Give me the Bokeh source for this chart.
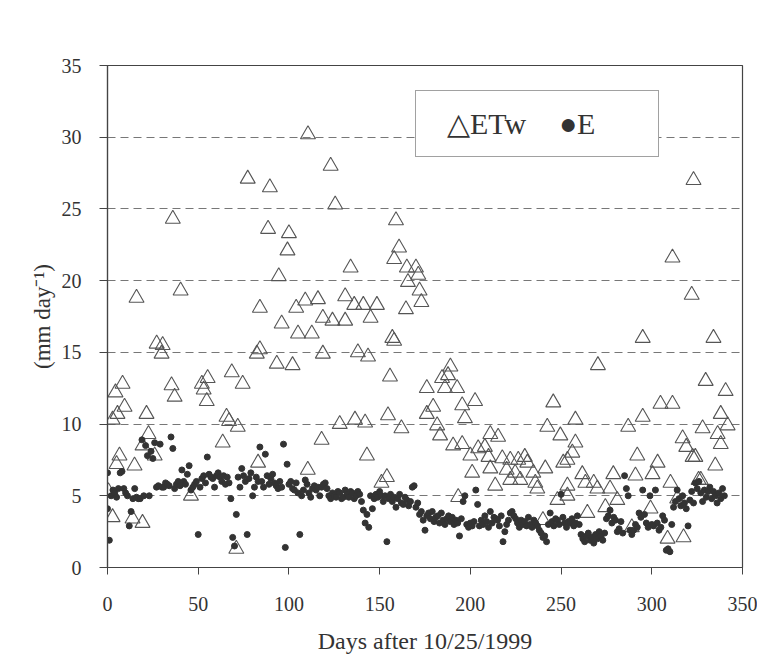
import math
from bokeh.plotting import figure
from bokeh.models import Range1d, FixedTicker, Legend, LegendItem
from bokeh.embed import file_html
from bokeh.resources import INLINE

# ---------------- data ----------------
x_ticks = [0, 50, 100, 150, 200, 250, 300, 350]
y_ticks = [0, 5, 10, 15, 20, 25, 30, 35]

etw_day = [
    110.5, 123, 77.3, 89.5, 125.5, 36, 159, 88.5, 100, 99.2,
    160.7, 158, 134, 94.4, 165, 170, 171.3, 165.6, 172, 173,
    16, 40.3, 84, 109, 116, 131, 136, 141, 148.5, 104,
    164.5, 96, 118.7, 124, 131, 145, 105, 112.6, 157, 323,
    311.4, 322,
    118.7, 138, 143.6, 158, 155.7, 154.6, 162, 93.3, 102, 82.3,
    84, 68.5, 74.5, 52, 55.2, 53, 54.7, 35.3, 37, 27.1,
    30.4, 29.8, 8.3, 4.4, 9.4, 5.5, 2.8, 21.5, 22.6, 19.3,
    26, 6.6, 5, 14.9, 0.5, 2.8, 13.8, 19.3, 46, 65.6,
    67, 71.8, 63.5, 83, 71, 110.4, 118, 128, 136.4, 142,
    143, 154, 151,
    189, 184.4, 187.7, 176, 186, 192.7, 179.5, 176, 202.6, 195.5,
    197, 181.7, 183.3, 211, 215.3, 190.5, 195.5, 200, 204.3, 208,
    210, 217.6, 222, 226.4, 230, 231.4, 201, 211, 220, 224.7,
    234.7, 241.3, 222, 227.5, 235.8, 236.9, 213.7, 193.3, 242.4, 249.6,
    245.7, 257.9, 257.9, 256.2, 253.5, 251.2, 261.7, 253.5, 248, 240,
    270.3, 287, 295, 304.8, 311.4, 292, 303.2, 278.8, 291, 300.4,
    310.3, 317, 319, 322.5, 328, 334, 295, 329.7, 340.7, 338,
    341.8, 336.3, 338, 335, 327, 308.7, 317.5, 264.5, 281, 268,
    270, 277, 274.4, 299.3, 314, 289, 263.4, 325.8, 324, 253.5,
]
etw_val = [
    30.2, 28.0, 27.1, 26.5, 25.3, 24.3, 24.2, 23.6, 23.3, 22.1,
    22.3, 21.5, 20.9, 20.3, 20.9, 20.9, 20.4, 19.9, 19.3, 18.5,
    18.8, 19.3, 18.1, 18.6, 18.7, 18.9, 18.3, 18.3, 18.3, 18.1,
    18.0, 17.0, 17.4, 17.2, 17.2, 17.4, 16.3, 16.3, 16.0, 27.0,
    21.6, 19.0,
    14.9, 15.0, 14.7, 15.8, 13.3, 10.6, 9.7, 14.2, 14.1, 14.9,
    15.2, 13.6, 12.8, 12.8, 13.2, 12.4, 11.6, 12.7, 11.9, 15.6,
    15.5, 14.9, 12.8, 12.2, 11.2, 10.7, 10.3, 10.7, 9.3, 8.5,
    7.8, 7.8, 7.2, 7.1, 5.3, 3.5, 3.4, 3.1, 5.0, 10.5,
    10.2, 9.8, 8.7, 7.3, 1.3, 6.8, 8.9, 10.0, 10.3, 10.1,
    7.8, 6.3, 5.9,
    14.0, 13.2, 13.4, 12.5, 12.5, 12.5, 11.2, 10.7, 11.6, 11.3,
    10.4, 9.9, 9.2, 9.3, 9.1, 8.5, 8.6, 7.8, 8.3, 8.4,
    7.7, 7.6, 7.5, 7.5, 7.7, 7.3, 6.6, 6.9, 6.8, 6.6,
    6.6, 6.9, 6.1, 6.1, 5.9, 5.5, 5.7, 4.9, 9.8, 9.2,
    11.5, 10.3, 8.7, 8.0, 7.5, 7.3, 6.5, 5.7, 4.7, 3.3,
    14.1, 9.8, 10.5, 11.4, 11.4, 7.8, 7.3, 6.5, 6.4, 6.5,
    5.9, 9.0, 8.4, 7.7, 9.7, 16.0, 16.0, 13.0, 12.3, 10.7,
    9.9, 9.3, 8.6, 7.1, 6.1, 2.0, 2.1, 3.8, 4.7, 5.9,
    5.5, 5.5, 4.2, 4.1, 4.8, 2.8, 5.9, 6.1, 7.7, 5.0,
]

e_day = [0, 0] + list(range(1, 341))
e_val = [
    6.6, 4.1,
    1.9, 5.0, 5.4, 5.2, 4.9, 5.5, 6.6, 6.7, 5.5, 5.2,
    5.0, 2.9, 3.9, 4.8, 5.5, 4.9, 4.8, 4.8, 8.9, 5.0,
    8.5, 7.8, 5.0, 8.1, 7.6, 8.7, 5.6, 5.7, 8.6, 5.6,
    5.6, 5.9, 5.8, 5.7, 9.1, 8.3, 5.5, 5.8, 6.0, 5.7,
    6.8, 6.0, 5.8, 6.5, 7.1, 5.4, 5.6, 5.8, 6.0, 2.3,
    5.6, 6.2, 6.4, 5.9, 7.7, 6.5, 6.3, 6.2, 5.6, 6.4,
    6.6, 6.3, 6.0, 6.4, 5.8, 6.3, 5.9, 4.8, 2.1, 1.5,
    3.7, 6.3, 5.6, 6.9, 6.4, 6.0, 2.3, 6.2, 6.6, 5.0,
    5.6, 6.3, 6.0, 8.4, 6.0, 5.6, 7.9, 6.4, 5.8, 6.2,
    6.5, 5.9, 5.7, 5.5, 6.0, 5.6, 8.6, 1.4, 7.2, 5.8,
    6.0, 5.5, 5.4, 5.9, 5.2, 2.3, 5.0, 5.4, 6.1, 5.8,
    5.2, 4.9, 5.5, 5.7, 5.4, 5.6, 5.0, 5.6, 5.8, 5.9,
    5.5, 5.0, 4.8, 5.2, 5.0, 4.9, 5.3, 5.2, 4.8, 4.9,
    5.4, 5.1, 4.9, 5.3, 5.2, 4.8, 5.0, 5.3, 5.1, 4.6,
    4.0, 3.1, 3.7, 2.8, 5.0, 4.1, 4.8, 5.1, 4.9, 5.3,
    5.0, 4.6, 5.0, 1.8, 4.8, 5.1, 4.6, 4.9, 4.2, 4.8,
    5.1, 4.5, 4.4, 4.9, 4.7, 4.3, 4.6, 5.6, 5.7, 4.2,
    4.5, 3.7, 3.9, 3.3, 2.6, 3.6, 3.8, 3.4, 3.9, 3.2,
    3.5, 3.6, 3.1, 3.8, 3.3, 3.0, 3.4, 3.6, 3.2, 3.5,
    3.0, 3.3, 3.1, 2.2, 3.4, 4.6, 5.0, 3.0, 2.8, 3.1,
    2.9, 3.2, 5.4, 4.4, 2.9, 3.3, 3.0, 3.6, 3.2, 2.8,
    3.9, 3.1, 3.5, 3.4, 3.3, 2.9, 3.6, 1.8, 2.5, 3.0,
    3.3, 3.8, 3.9, 3.6, 3.4, 3.1, 2.8, 3.3, 3.0, 3.2,
    2.9, 3.5, 3.0, 2.8, 3.3, 3.1, 2.9, 2.6, 2.4, 2.1,
    2.2, 1.8, 3.0, 3.8, 3.2, 2.9, 3.4, 3.3, 3.0, 5.1,
    3.5, 3.1, 2.8, 3.2, 3.1, 3.4, 2.9, 3.1, 3.6, 3.0,
    2.3, 2.0, 1.8, 2.2, 2.4, 1.9, 2.1, 1.7, 2.3, 2.0,
    2.5, 2.2, 1.9, 2.4, 3.4, 3.6, 4.0, 3.1, 3.5, 3.3,
    2.5, 2.7, 3.2, 2.4, 6.4, 5.5, 5.0, 2.6, 2.3, 2.6,
    3.0, 2.8, 3.8, 3.5, 5.4, 3.7, 3.1, 2.8, 5.0, 3.0,
    2.9, 5.4, 3.1, 2.6, 2.8, 3.6, 3.3, 1.2, 1.3, 1.1,
    3.0, 4.2, 4.6, 5.4, 4.8, 4.3, 5.0, 4.5, 4.1, 2.9,
    4.7, 5.3, 4.5, 5.9, 5.5, 6.0, 5.2, 4.6, 5.4, 4.9,
    5.3, 5.6, 4.8, 5.3, 5.0, 4.5, 5.2, 4.8, 5.5, 5.0,
]

x_title = "Days after 10/25/1999"
y_title = "(mm day\u207b\u00b9)"
legend_labels = ["\u25b3ETw", "\u25cfE"]

# ---------------- figure ----------------
FONT = "Liberation Serif"
INK = "#444444"

p = figure(width=757, height=660,
           x_range=Range1d(x_ticks[0], x_ticks[-1]),
           y_range=Range1d(y_ticks[0], y_ticks[-1]),
           output_backend="svg", toolbar_location=None,
           min_border_left=107, min_border_right=15,
           min_border_top=65, min_border_bottom=93)

p.background_fill_color = "white"
p.border_fill_color = "white"
p.outline_line_color = INK
p.outline_line_width = 1.2

p.xgrid.visible = False
p.ygrid.grid_line_color = "#777777"
p.ygrid.grid_line_dash = "8 5"
p.ygrid.grid_line_width = 1

p.xaxis.ticker = FixedTicker(ticks=x_ticks)
p.yaxis.ticker = FixedTicker(ticks=y_ticks)
for ax in (p.xaxis, p.yaxis):
    ax.axis_line_color = INK
    ax.axis_line_width = 1.2
    ax.major_tick_line_color = INK
    ax.major_tick_in = 0
    ax.minor_tick_line_color = None
    ax.major_label_text_font = FONT
    ax.major_label_text_font_size = "20px"
    ax.major_label_text_color = "#333333"
    ax.axis_label_text_font = FONT
    ax.axis_label_text_font_style = "normal"
    ax.axis_label_text_color = "#333333"
p.xaxis.major_tick_out = 7
p.yaxis.major_tick_out = 8
p.xaxis.major_label_standoff = 22
p.yaxis.major_label_standoff = 18

p.xaxis.axis_label = x_title
p.xaxis.axis_label_text_font_size = "24px"
p.xaxis.axis_label_standoff = 14
p.yaxis.axis_label = y_title
p.yaxis.axis_label_text_font_size = "23px"
p.yaxis.axis_label_standoff = 4

r_etw = p.scatter(etw_day, etw_val, marker="triangle", size=15,
                  line_color="#555555", line_width=1.1, fill_alpha=0)
r_e = p.scatter(e_day, e_val, marker="circle", size=6,
                line_color="#333333", fill_color="#333333")

legend = Legend(items=[LegendItem(label=legend_labels[0], renderers=[r_etw]),
                       LegendItem(label=legend_labels[1], renderers=[r_e])],
                location=(308, 410), orientation="horizontal",
                border_line_color=INK, border_line_width=1.5,
                background_fill_color="white", background_fill_alpha=1,
                label_text_font=FONT, label_text_font_size="30px",
                label_text_color="#333333",
                glyph_width=14, glyph_height=0, label_standoff=2,
                label_width=84,
                spacing=12, padding=15, margin=0)
p.add_layout(legend)

open("out.html", "w").write(file_html(p, INLINE))
